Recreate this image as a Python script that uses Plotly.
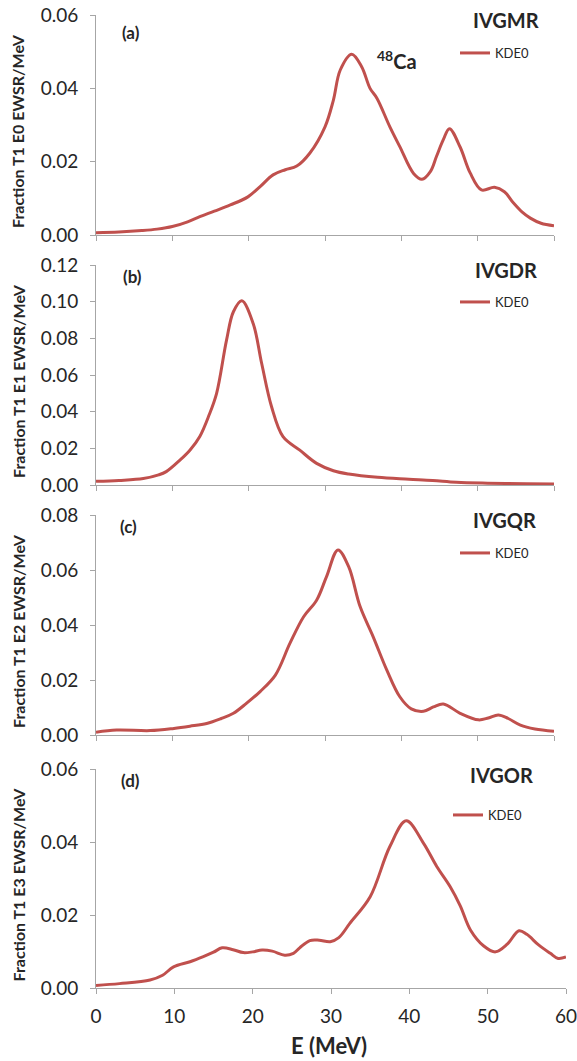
import plotly.graph_objects as go

# ---- data: strength distributions (fraction of T1 EWSR per MeV) ----
e_gmr = [0, 3, 6, 8, 10, 12, 13.6, 15.5, 17.6, 19.9, 21.5, 23.2, 24.8, 26.3, 28, 30, 31.1, 32,
         33.5, 34.8, 35.9, 36.8, 38.5, 39.8, 41.6, 42.7, 43.8, 44.6, 45.5, 46.3, 47.7, 49, 50.5,
         52.2, 53.5, 54.7, 55.8, 56.9, 58.3, 60]
s_gmr = [0.0006, 0.0008, 0.0012, 0.0016, 0.0023, 0.0036, 0.0050, 0.0065, 0.0082, 0.0104, 0.0132,
         0.0164, 0.0178, 0.0188, 0.0223, 0.0295, 0.0368, 0.0450, 0.0493, 0.0459, 0.0400, 0.0373,
         0.0295, 0.0241, 0.0168, 0.0152, 0.0173, 0.0214, 0.0260, 0.0290, 0.0240, 0.0170, 0.0123,
         0.0130, 0.0118, 0.0087, 0.0063, 0.0046, 0.0032, 0.0025]

e_gdr = [0, 3, 6.2, 8.2, 9.2, 11, 12.3, 13.6, 14.8, 15.8, 17.1, 18, 19.1, 20.6, 21.7, 23, 24.5,
         26.7, 28.9, 31.1, 33.1, 36.9, 41, 44.1, 47.2, 51.3, 56.4, 60]
s_gdr = [0.0020, 0.0025, 0.0035, 0.0055, 0.0073, 0.0136, 0.0190, 0.0265, 0.0380, 0.0500, 0.0790,
         0.0945, 0.1005, 0.0880, 0.0664, 0.0427, 0.0264, 0.0190, 0.0118, 0.0078, 0.0060, 0.0042,
         0.0032, 0.0025, 0.0015, 0.0010, 0.0007, 0.0005]

e_gqr = [0, 2.7, 7.1, 10.2, 12.3, 14.5, 16.4, 18, 19.7, 21.5, 23.5, 25.4, 27.2, 28.9, 30.2, 31.7,
         33.1, 34.6, 36.3, 38.1, 39.8, 41.3, 42.9, 44.2, 45.5, 47.7, 50.1, 51.4, 52.7, 54, 55.6,
         57.5, 60]
s_gqr = [0.0010, 0.0018, 0.0016, 0.0024, 0.0032, 0.0042, 0.0060, 0.0079, 0.0115, 0.0158, 0.0218,
         0.0333, 0.0430, 0.0490, 0.0576, 0.0673, 0.0612, 0.0467, 0.0358, 0.0236, 0.0139, 0.0095,
         0.0086, 0.0102, 0.0113, 0.0079, 0.0055, 0.0062, 0.0073, 0.0060, 0.0036, 0.0022, 0.0014]

e_gor = [0, 3, 6.9, 8.5, 9.9, 12, 13.7, 15, 16.1, 17.5, 18.8, 20, 21.2, 22.5, 24.1, 25.2, 26, 27.3,
         28.5, 29.9, 31, 32.4, 35, 37.5, 39.6, 41.8, 43.5, 45.2, 46.5, 47.8, 49.5, 51, 52.5, 54, 55,
         56.5, 58, 59, 60]
s_gor = [0.0007, 0.0012, 0.0022, 0.0035, 0.0058, 0.0072, 0.0086, 0.0098, 0.0110, 0.0105, 0.0097,
         0.0099, 0.0104, 0.0101, 0.0090, 0.0095, 0.0110, 0.0130, 0.0131, 0.0127, 0.0138, 0.0177,
         0.0250, 0.0387, 0.0458, 0.0397, 0.0333, 0.0278, 0.0225, 0.0159, 0.0115, 0.0099, 0.0120,
         0.0157, 0.0147, 0.0118, 0.0095, 0.0081, 0.0085]

series_name = "KDE0"
modes = ["IVGMR", "IVGDR", "IVGQR", "IVGOR"]
panel_tags = ["(a)", "(b)", "(c)", "(d)"]
y_titles = ["Fraction T1 E0 EWSR/MeV", "Fraction T1 E1 EWSR/MeV",
            "Fraction T1 E2 EWSR/MeV", "Fraction T1 E3 EWSR/MeV"]
y_max = [0.06, 0.12, 0.08, 0.06]
x_ticks = [0, 10, 20, 30, 40, 50, 60]

# ---- page geometry (pixels) ----
W, H = 577, 1061
L, R = 96, 11
plot_w = W - L - R


def px(xp):
    return (xp - L) / plot_w


def py(yp):
    return 1 - yp / H


# vertical extents of each panel (top, bottom) and right edge in pixels
panel_px = [(15, 235, 554), (265, 485, 554), (515, 735, 554), (769, 988, 566)]
title_px = [(506, 20), (506, 270), (504, 520), (501, 775)]
tag_px = [(131, 32), (132, 276), (128, 526), (130, 780)]
legend_px = [(455, 53), (455, 302), (455, 553), (448, 815)]

RED = "#C0504D"
AXIS = "#A6A6A6"
TXT = "#262626"
FONT = "Lato"


def note(x, y, text, size, angle=0):
    fig.add_annotation(x=px(x), y=py(y), xref="paper", yref="paper", text=text,
                       showarrow=False, xanchor="center", yanchor="middle",
                       textangle=angle, font=dict(family=FONT, size=size, color=TXT))


fig = go.Figure()
data = [(e_gmr, s_gmr), (e_gdr, s_gdr), (e_gqr, s_gqr), (e_gor, s_gor)]
legend_keys = ["legend", "legend2", "legend3", "legend4"]

for i, (xs, ys) in enumerate(data):
    n = "" if i == 0 else str(i + 1)
    fig.add_trace(go.Scatter(
        x=xs, y=ys, mode="lines", name=series_name,
        line=dict(color=RED, width=3, shape="spline", smoothing=1.0),
        xaxis="x" + n, yaxis="y" + n, legend=legend_keys[i], showlegend=True,
    ))
    top, bot, right = panel_px[i]
    last = i == 3
    fig.update_layout(**{
        "xaxis" + n: dict(
            domain=[0, px(right)], range=[0, 60], anchor="y" + n,
            tickvals=x_ticks, showticklabels=last, ticks="outside", ticklen=5,
            tickcolor=AXIS, showline=True, linecolor=AXIS, linewidth=1,
            showgrid=False, zeroline=False, ticklabelstandoff=6, automargin=False,
            ticklabeloverflow="allow",
            tickfont=dict(family=FONT, size=19, color=TXT),
        ),
        "yaxis" + n: dict(
            domain=[py(bot), py(top)], range=[0, y_max[i]], anchor="x" + n,
            dtick=0.02, tick0=0, tickformat=".2f", ticks="outside", ticklen=5,
            tickcolor=AXIS, showline=True, linecolor=AXIS, linewidth=1,
            showgrid=False, zeroline=False, ticklabelstandoff=8, automargin=False,
            tickfont=dict(family=FONT, size=19, color=TXT),
        ),
        legend_keys[i]: dict(
            x=px(legend_px[i][0]), y=py(legend_px[i][1]), xanchor="left", yanchor="middle",
            xref="paper", yref="paper", bgcolor="rgba(0,0,0,0)",
            font=dict(family=FONT, size=13, color=TXT),
        ),
    })
    note(title_px[i][0], title_px[i][1], "<b>%s</b>" % modes[i], 20)
    note(tag_px[i][0], tag_px[i][1], "<b>%s</b>" % panel_tags[i], 17)
    note(18, (top + bot) / 2 + 6, "<b>%s</b>" % y_titles[i], 16, angle=-90)

note(397, 60, "<b><sup>48</sup>Ca</b>", 20)
note(329, 1045, "<b>E (MeV)</b>", 22)

fig.update_layout(
    width=W, height=H, margin=dict(l=L, r=R, t=0, b=0, autoexpand=False),
    paper_bgcolor="white", plot_bgcolor="white",
)

fig.write_html("out.html")
